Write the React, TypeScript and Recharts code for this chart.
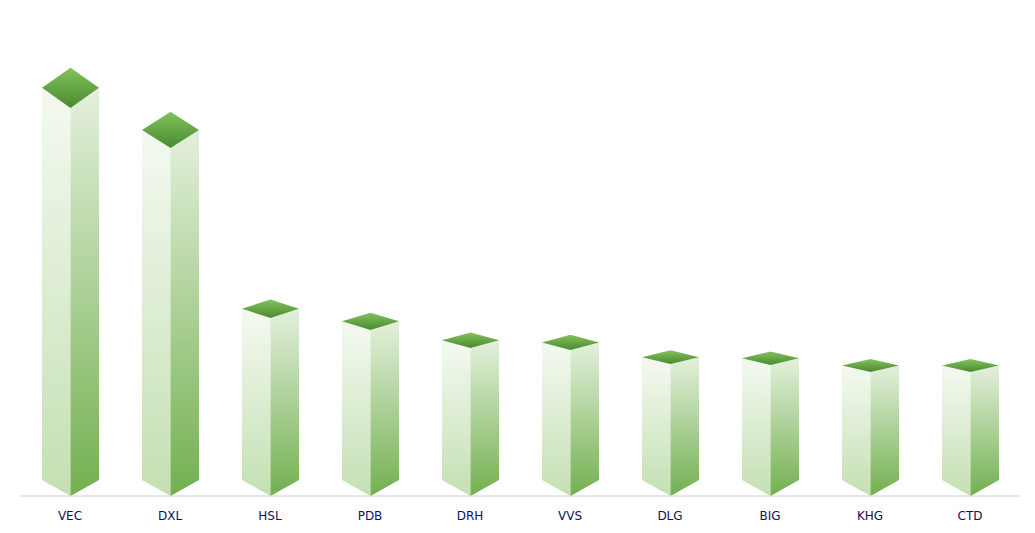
import React from 'react';
import { BarChart, Bar, XAxis, YAxis } from 'recharts';

const tickers = ['VEC', 'DXL', 'HSL', 'PDB', 'DRH', 'VVS', 'DLG', 'BIG', 'KHG', 'CTD'];
const values = [388, 348, 178, 166, 148, 146, 132, 131, 124, 124];

const data = tickers.map((name, i) => ({ name, value: values[i] }));

// 3D prism: two side faces + diamond top, with a V-shaped base
const Prism = (props: any) => {
    const { x, y, width, height } = props;
    if (!height || height <= 0) return null;
    const cx = x + width / 2;
    const r = x + width;
    const base = y + height;
    const d = height * 0.052;
    const b = 16;
    return (
        <g>
            <polygon
                points={`${x},${y - d} ${cx},${y} ${cx},${base} ${x},${base - b}`}
                fill="url(#leftFace)"
            />
            <polygon
                points={`${cx},${y} ${r},${y - d} ${r},${base - b} ${cx},${base}`}
                fill="url(#rightFace)"
            />
            <polygon
                points={`${cx},${y - 2 * d} ${r},${y - d} ${cx},${y} ${x},${y - d}`}
                fill="url(#topFace)"
            />
        </g>
    );
};

const App: React.FC = () => {
    return (
        <div style={{ width: 1027, height: 525 }}>
            <BarChart
                width={1027}
                height={525}
                data={data}
                margin={{ top: 38, right: 15, bottom: 7, left: 12 }}
            >
                <defs>
                    <linearGradient id="leftFace" x1="0" y1="0" x2="0" y2="1">
                        <stop offset="0%" stopColor="#f4f9f1" />
                        <stop offset="100%" stopColor="#c4e0b2" />
                    </linearGradient>
                    <linearGradient id="rightFace" x1="0" y1="0" x2="0" y2="1">
                        <stop offset="0%" stopColor="#e4f0dc" />
                        <stop offset="100%" stopColor="#72b050" />
                    </linearGradient>
                    <linearGradient id="topFace" x1="0" y1="0" x2="0" y2="1">
                        <stop offset="0%" stopColor="#84c25e" />
                        <stop offset="100%" stopColor="#4a8a2f" />
                    </linearGradient>
                </defs>
                <XAxis
                    dataKey="name"
                    height={30}
                    axisLine={{ stroke: '#cccccc' }}
                    tickLine={false}
                    tickMargin={9}
                    tick={{ fill: '#10105e', fontSize: 12, fontFamily: 'DejaVu Sans, sans-serif' }}
                    interval={0}
                />
                <YAxis hide domain={[0, 450]} />
                <Bar dataKey="value" barSize={57} shape={Prism} isAnimationActive={false} />
            </BarChart>
        </div>
    );
};

export default App;
